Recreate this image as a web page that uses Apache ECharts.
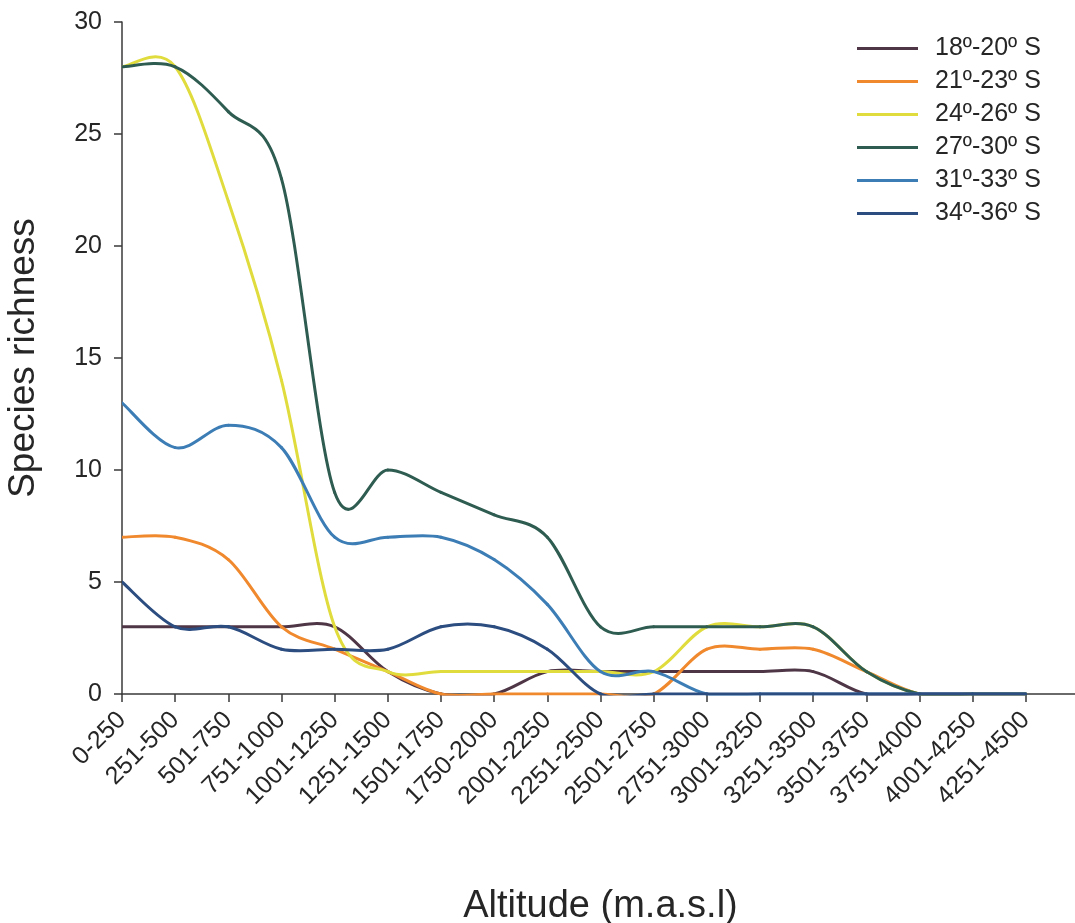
<!DOCTYPE html>
<html>
<head>
<meta charset="utf-8">
<script src="https://cdn.jsdelivr.net/npm/echarts@6/dist/echarts.min.js"></script>
<style>
  html, body { margin: 0; padding: 0; background: #ffffff; }
  #chart { width: 1075px; height: 923px; }
</style>
</head>
<body>
<div id="chart"></div>
<script>
// Altitude bands (m.a.s.l); the trailing blank slot only extends the axis line
const categories = ['0-250', '251-500', '501-750', '751-1000', '1001-1250', '1251-1500',
  '1501-1750', '1750-2000', '2001-2250', '2251-2500', '2501-2750', '2751-3000',
  '3001-3250', '3251-3500', '3501-3750', '3751-4000', '4001-4250', '4251-4500', ''];

// Species richness per latitude band
const lat18_20 = [3, 3, 3, 3, 3, 1, 0, 0, 1, 1, 1, 1, 1, 1, 0, 0, 0, 0];
const lat21_23 = [7, 7, 6, 3, 2, 1, 0, 0, 0, 0, 0, 2, 2, 2, 1, 0, 0, 0];
const lat24_26 = [28, 28, 22, 14, 3, 1, 1, 1, 1, 1, 1, 3, 3, 3, 1, 0, 0, 0];
const lat27_30 = [28, 28, 26, 23, 9, 10, 9, 8, 7, 3, 3, 3, 3, 3, 1, 0, 0, 0];
const lat31_33 = [13, 11, 12, 11, 7, 7, 7, 6, 4, 1, 1, 0, 0, 0, 0, 0, 0, 0];
const lat34_36 = [5, 3, 3, 2, 2, 2, 3, 3, 2, 0, 0, 0, 0, 0, 0, 0, 0, 0];

const seriesNames = ['18º-20º S', '21º-23º S', '24º-26º S', '27º-30º S', '31º-33º S', '34º-36º S'];
const seriesData = [lat18_20, lat21_23, lat24_26, lat27_30, lat31_33, lat34_36];
const seriesColors = ['#4f3646', '#f0892e', '#e0dc3e', '#2f5c50', '#3d7db5', '#2c4d80'];

const axisColor = '#3a3a3a';
const textColor = '#262626';
const fontFamily = 'Liberation Sans, Arial, sans-serif';
const lineWidth = 3;

// One cubic Bezier segment (Catmull-Rom tangents) between point i and i+1,
// positioned through the cartesian scales and clipped to the plot area.
function smoothSegment(params, api) {
  const i = params.dataIndexInside;
  const n = params.dataInsideLength;
  if (i >= n - 1) return null;
  const pt = function (j) { return api.coord([api.value(0, j), api.value(1, j)]); };
  const p1 = pt(i);
  const p2 = pt(i + 1);
  const p0 = i > 0 ? pt(i - 1) : p1;
  const p3 = i + 2 < n ? pt(i + 2) : p2;
  const cs = params.coordSys;
  return {
    type: 'bezierCurve',
    shape: {
      x1: p1[0], y1: p1[1],
      x2: p2[0], y2: p2[1],
      cpx1: p1[0] + (p2[0] - p0[0]) / 6,
      cpy1: p1[1] + (p2[1] - p0[1]) / 6,
      cpx2: p2[0] - (p3[0] - p1[0]) / 6,
      cpy2: p2[1] - (p3[1] - p1[1]) / 6
    },
    style: { stroke: api.visual('color'), lineWidth: lineWidth, fill: null, lineCap: 'round' },
    clipPath: {
      type: 'rect',
      shape: { x: cs.x, y: cs.y - 20, width: cs.width, height: cs.height + 20 + lineWidth / 2 }
    }
  };
}

const chart = echarts.init(document.getElementById('chart'), null, { renderer: 'canvas' });

chart.setOption({
  animation: false,
  backgroundColor: '#ffffff',
  grid: { left: 122, top: 22, width: 957, height: 672, containLabel: false, outerBoundsMode: 'none' },
  legend: {
    orient: 'vertical',
    left: 852,
    top: 31,
    itemWidth: 61,
    itemHeight: 3,
    itemGap: 8,
    icon: 'path://M0,0 L61,0 L61,3 L0,3 Z',
    textStyle: { fontSize: 25, lineHeight: 25, color: textColor, fontFamily: fontFamily, padding: [0, 0, 0, 12] },
    data: seriesNames
  },
  xAxis: {
    type: 'category',
    data: categories,
    boundaryGap: false,
    name: 'Altitude (m.a.s.l)',
    nameLocation: 'middle',
    nameGap: 194,
    nameTextStyle: { fontSize: 38, color: textColor, fontFamily: fontFamily },
    axisLine: { lineStyle: { color: axisColor, width: 1.5 } },
    axisTick: {
      show: true,
      length: 8,
      lineStyle: { color: axisColor, width: 1.5 },
      interval: function (idx) { return idx < categories.length - 1; }
    },
    axisLabel: {
      rotate: 45,
      margin: 22,
      fontSize: 25,
      color: textColor,
      fontFamily: fontFamily,
      interval: 0
    },
    splitLine: { show: false }
  },
  yAxis: {
    type: 'value',
    min: 0,
    max: 30,
    interval: 5,
    name: 'Species richness',
    nameLocation: 'middle',
    nameGap: 80,
    nameTextStyle: { fontSize: 37, color: textColor, fontFamily: fontFamily },
    axisLine: { show: true, lineStyle: { color: axisColor, width: 1.5 } },
    axisTick: { show: true, length: 8, lineStyle: { color: axisColor, width: 1.5 } },
    axisLabel: { margin: 20, fontSize: 25, color: textColor, fontFamily: fontFamily },
    splitLine: { show: false }
  },
  series: seriesNames.map(function (name, i) {
    return {
      name: name,
      type: 'custom',
      renderItem: smoothSegment,
      encode: { x: 0, y: 1 },
      data: seriesData[i].map(function (v, j) { return [j, v]; }),
      itemStyle: { color: seriesColors[i] },
      z: 2 + i
    };
  })
});
</script>
</body>
</html>
